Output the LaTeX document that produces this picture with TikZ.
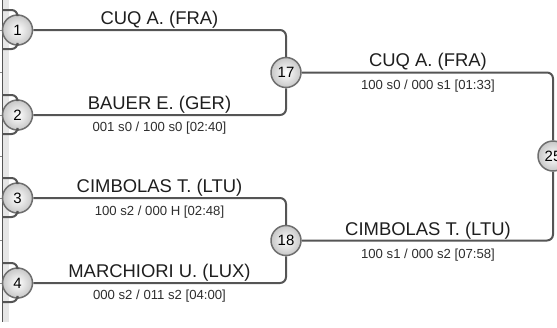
\documentclass[tikz,border=0pt]{standalone}
\usepackage{fontspec}
\setmainfont{Liberation Sans}
\definecolor{linegray}{HTML}{555555}
\definecolor{circgray}{HTML}{6E6E6E}
\definecolor{bandgray}{HTML}{E6E6E6}
\definecolor{namecol}{HTML}{1E1E1E}
\definecolor{scorecol}{HTML}{2E2E2E}
\begin{document}
\begin{tikzpicture}[x=1bp,y=-1bp,
  conn/.style={draw=linegray,line width=2bp,rounded corners=6bp},
  seed/.style={circle,minimum size=30bp,inner sep=0pt,draw=circgray,line width=1.5bp,
    inner color=white,outer color=black!22,font=\fontsize{15}{18}\selectfont,text=black},
  pname/.style={anchor=base,inner sep=0pt,text=namecol,font=\fontsize{18.5}{22}\selectfont},
  pscore/.style={anchor=base,inner sep=0pt,text=scorecol,font=\fontsize{13.2}{16}\selectfont},
  tick/.style={draw=linegray!70,line width=1bp}]
\useasboundingbox (0,0) rectangle (557,327);
\clip (0,0) rectangle (557,327);
% left panel edge
\fill[bandgray] (3,0) rectangle (8.5,322);
\draw[draw=linegray,line width=1.6bp] (2.6,0) -- (2.6,322);
\foreach \ty in {30,72,115,156,198,240,283}{\draw[tick] (0,\ty) -- (2,\ty);}
% free ends of the stubs from the left
\coordinate (a1) at (2.6,10);  \coordinate (b1) at (2.6,49);
\coordinate (a2) at (2.6,95);  \coordinate (b2) at (2.6,134);
\coordinate (a3) at (2.6,178); \coordinate (b3) at (2.6,217);
\coordinate (a4) at (2.6,263); \coordinate (b4) at (2.6,302);
% circles
\node[seed] (c1) at (17.5,30) {1};
\node[seed] (c2) at (17.5,115) {2};
\node[seed] (c3) at (17.5,198) {3};
\node[seed] (c4) at (17.5,283) {4};
\node[seed] (c17) at (286,72.5) {17};
\node[seed] (c18) at (286,240.5) {18};
\node[seed] (c25) at (553,156) {25};
% stubs
\foreach \i in {1,2,3,4}{
  \draw[conn] (a\i) -| (c\i);
  \draw[conn] (b\i) -| (c\i);
}
% connectors
\draw[conn] (c1) -| (c17);
\draw[conn] (c2) -| (c17);
\draw[conn] (c3) -| (c18);
\draw[conn] (c4) -| (c18);
\draw[conn] (c17) -| (c25);
\draw[conn] (c18) -| (c25);
% labels
\node[pname] (n1) at (159.5,24) {CUQ A. (FRA)};
\node[pname] (n2) at (159.5,109) {BAUER E. (GER)};
\node[pscore] (s2) at (159.5,131) {001 s0 / 100 s0 [02:40]};
\node[pname] (n3) at (159.5,192) {CIMBOLAS T. (LTU)};
\node[pscore] (s3) at (159.5,215) {100 s2 / 000 H [02:48]};
\node[pname] (n4) at (159.5,277) {MARCHIORI U. (LUX)};
\node[pscore] (s4) at (159.5,299.5) {000 s2 / 011 s2 [04:00]};
\node[pname] (n17) at (428,66.5) {CUQ A. (FRA)};
\node[pscore] (s17) at (428,89.5) {100 s0 / 000 s1 [01:33]};
\node[pname] (n18) at (428,235.5) {CIMBOLAS T. (LTU)};
\node[pscore] (s18) at (428,258.5) {100 s1 / 000 s2 [07:58]};
\end{tikzpicture}
\end{document}
